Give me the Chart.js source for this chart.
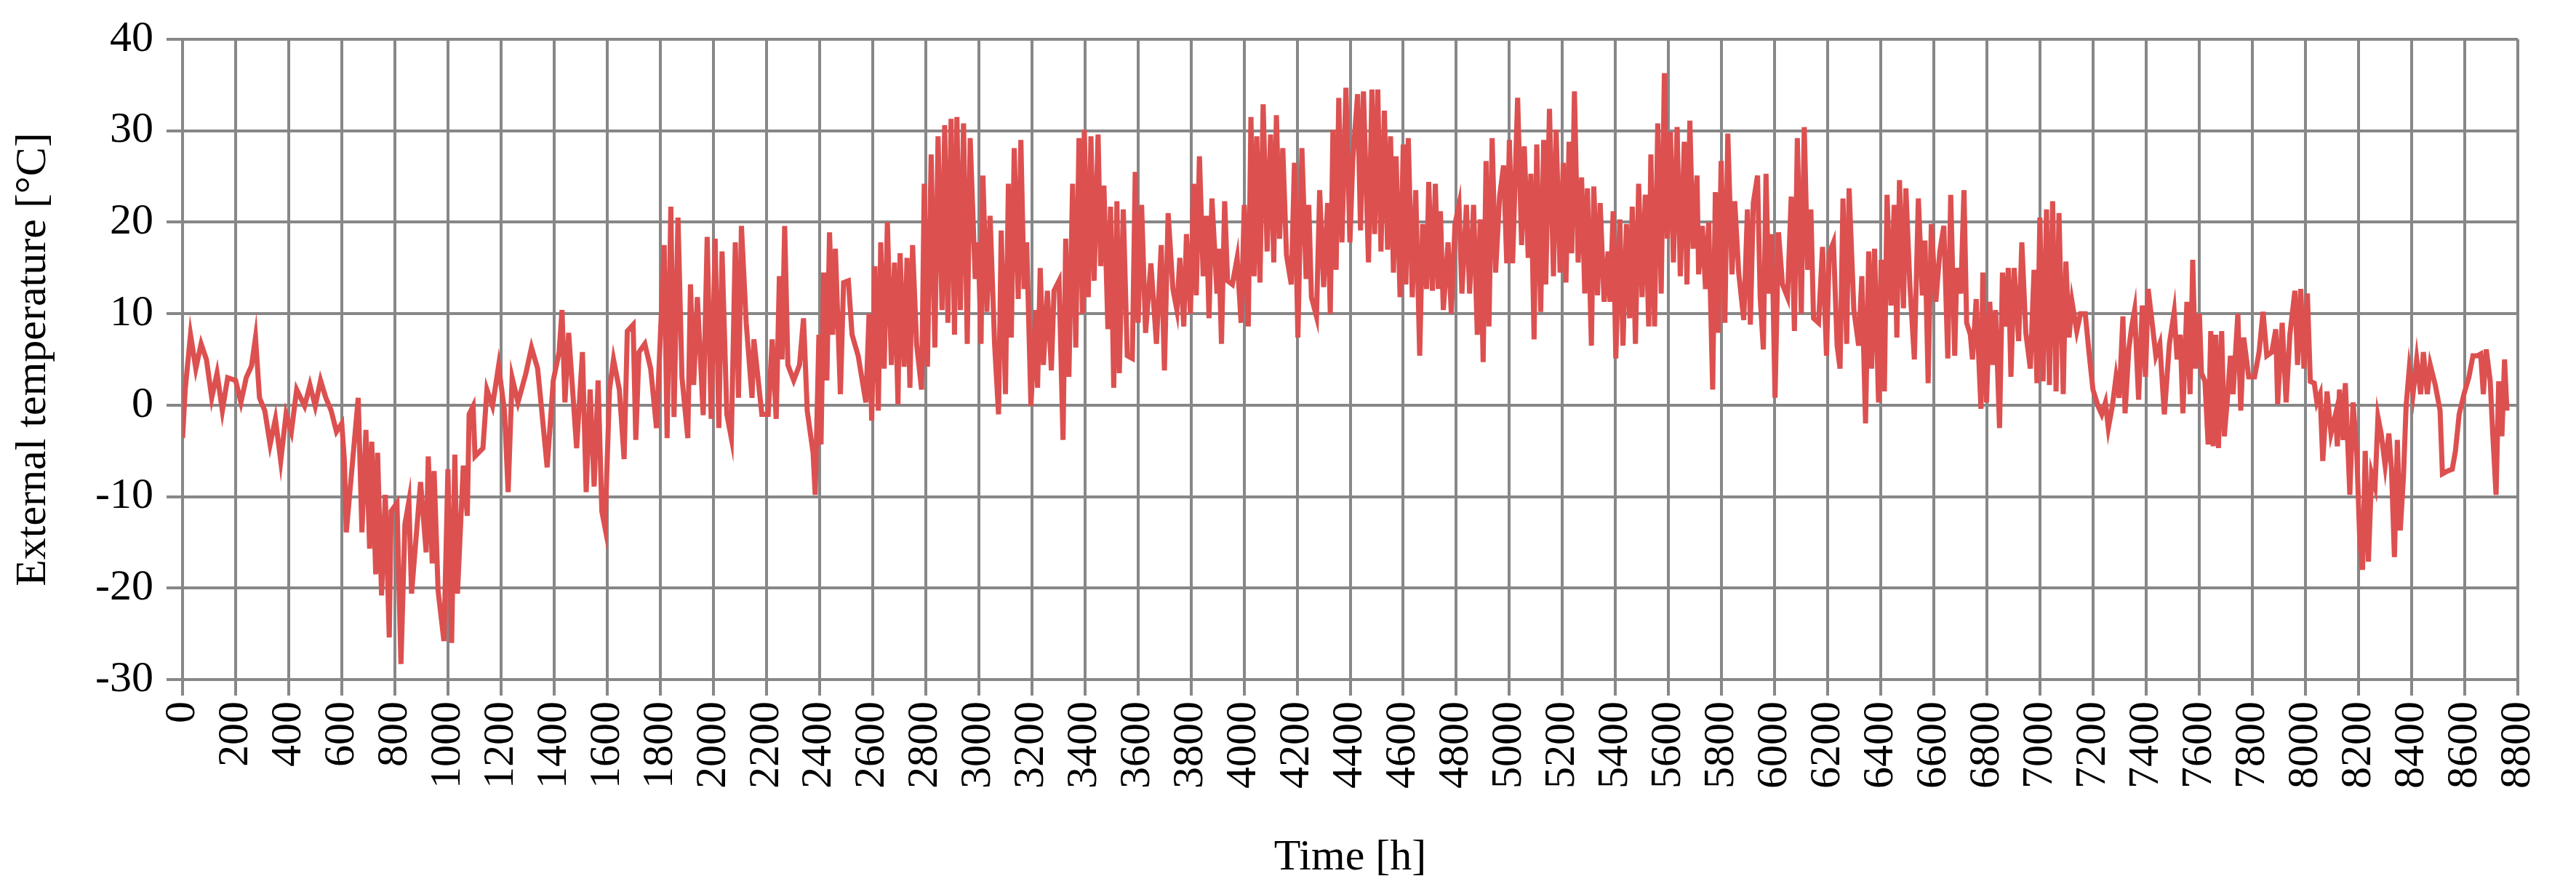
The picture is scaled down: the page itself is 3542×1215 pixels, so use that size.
<!DOCTYPE html>
<html>
<head>
<meta charset="utf-8">
<script src="https://cdn.jsdelivr.net/npm/chart.js@4.4.1/dist/chart.umd.min.js"></script>
<style>
  html, body { margin: 0; padding: 0; background: #fff; }
  #wrap { width: 3542px; height: 1215px; }
</style>
</head>
<body>
<div id="wrap"><canvas id="tempChart" width="3542" height="1215"></canvas></div>
<script>
// hourly external temperature (hour, °C)
const hours = [
  0,10,30,50,70,90,110,130,150,170,200,220,240,260,275,290,310,330,350,370,390,410,430,460,480,500,520,540,560,580,600,610,
  617,662,676,691,705,713,728,735,750,764,779,786,808,823,838,853,863,897,918,926,941,948,963,985,1000,1014,1026,1036,1058,1073,
  1080,1095,1102,1132,1147,1168,1191,1213,1227,1242,1264,1294,1315,1338,1352,1374,1397,1419,1430,1441,1455,1485,1507,1521,1536,1551,
  1566,1580,1592,1609,1624,1646,1664,1676,1698,1708,1720,1742,1764,1786,1815,1826,1840,1852,1867,1882,1904,1914,1926,1940,1962,1977,
  1992,2007,2021,2033,2051,2068,2083,2095,2106,2124,2146,2153,2183,2207,2222,2237,2249,2259,2269,2281,2303,2325,2340,2354,2376,2384,
  2398,2406,2416,2428,2438,2450,2460,2479,2491,2509,2523,2546,2575,2587,2597,2609,2622,2631,2644,2656,2671,2683,2696,2704,2719,2730,
  2741,2751,2766,2785,2795,2807,2821,2835,2847,2862,2872,2884,2896,2909,2918,2931,2943,2957,2968,2987,2998,3009,3016,3031,3043,3060,
  3075,3085,3101,3112,3123,3134,3149,3159,3171,3181,3197,3215,3222,3232,3244,3259,3274,3284,3303,3318,3328,3340,3354,3366,3378,3391,
  3398,3413,3423,3435,3450,3460,3472,3487,3497,3509,3521,3530,3545,3560,3579,3590,3601,3614,3629,3649,3670,3688,3700,3714,3732,3747,
  3758,3773,3783,3798,3810,3820,3832,3846,3858,3868,3879,3898,3905,3915,3927,3938,3956,3974,3989,4001,4016,4026,4038,4048,4060,4072,
  4087,4100,4112,4122,4134,4146,4160,4178,4190,4203,4218,4234,4244,4254,4273,4285,4300,4315,4325,4335,4347,4357,4369,4384,4399,4410,
  4428,4439,4450,4469,4482,4492,4504,4516,4529,4541,4552,4563,4573,4588,4600,4610,4619,4634,4647,4662,4673,4688,4696,4710,4721,4732,
  4740,4751,4769,4781,4795,4810,4821,4838,4850,4865,4879,4890,4901,4912,4923,4935,4948,4963,4978,4990,5000,5012,5031,5046,5056,5071,
  5081,5093,5103,5118,5129,5137,5151,5166,5176,5191,5203,5213,5225,5235,5245,5259,5272,5284,5294,5309,5318,5332,5342,5357,5372,5379,
  5391,5401,5416,5428,5441,5453,5463,5475,5487,5500,5512,5525,5533,5547,5559,5572,5584,5595,5607,5618,5632,5644,5659,5669,5680,5692,
  5707,5713,5727,5739,5751,5766,5776,5786,5798,5812,5823,5839,5849,5864,5883,5897,5908,5919,5935,5945,5957,5967,5977,5989,6001,6014,
  6029,6048,6062,6074,6085,6100,6111,6124,6136,6146,6165,6180,6195,6205,6221,6235,6246,6257,6271,6280,6298,6316,6328,6342,6354,6365,
  6376,6391,6401,6413,6423,6438,6450,6460,6470,6485,6494,6509,6526,6541,6556,6566,6578,6590,6607,6622,6637,6652,6663,6678,6686,6701,
  6713,6723,6737,6745,6759,6777,6784,6798,6810,6822,6832,6847,6858,6868,6880,6890,6902,6919,6931,6946,6963,6977,6988,6999,7011,7024,
  7035,7047,7060,7071,7087,7097,7109,7120,7138,7152,7170,7184,7199,7218,7232,7246,7257,7272,7286,7298,7312,7320,7334,7345,7356,7371,
  7385,7397,7407,7422,7436,7451,7468,7487,7505,7516,7528,7538,7553,7565,7575,7585,7600,7608,7621,7633,7643,7652,7662,7672,7684,7694,
  7706,7717,7727,7745,7756,7767,7786,7808,7825,7840,7854,7873,7888,7895,7912,7927,7941,7960,7970,7982,7994,8007,8018,8033,8043,8055,
  8065,8081,8096,8113,8120,8128,8142,8150,8167,8179,8193,8204,8215,8225,8237,8249,8262,8273,8285,8300,8314,8324,8335,8346,8357,8369,
  8379,8391,8405,8419,8434,8444,8459,8470,8489,8507,8516,8535,8553,8565,8579,8597,8616,8631,8648,8660,8670,8681,8696,8706,8718,8728,
  8740,8750,8759
];
const temps = [
  -3.6,1.7,7.7,4,6.7,5,0.8,3.5,-0.6,3,2.7,0.3,3,4.3,7.4,0.8,-0.6,-4.3,-1.5,-6.1,-1,-2.9,1.7,-0.1,2.2,-0.1,2.7,0.8,-0.6,-2.9,-2,-6.1,
  -13.9,0.8,-13.9,-2.7,-15.7,-4,-18.5,-5.2,-20.8,-9.8,-25.4,-11.6,-10.7,-28.3,-13,-10.5,-20.6,-8.4,-16.1,-5.6,-17.3,-7.2,-20.3,-25.8,-7,-26,-5.4,-20.6,-6.6,-12.1,
  -1,-0.1,-5.6,-4.7,1.7,-0.1,4.3,-0.6,-9.5,3,0.3,3.5,6.3,4,-0.1,-6.8,2.7,5.8,10.4,0.3,7.9,-4.7,5.8,-9.5,1.7,-8.9,
  2.7,-11.6,-13.4,1.7,5,1.7,-5.9,8.1,8.8,-3.8,5.8,6.7,4,-2.5,17.5,-3.6,21.7,-1.3,20.5,3,-3.6,13.2,2.2,11.8,-1.1,18.4,
  -1.5,18.2,-2.5,16.8,-1,-3.6,17.8,0.8,19.6,9,0.8,7.2,-1,-1,7.2,-1.5,14.1,5,19.6,4.4,2.7,4.4,9.5,-0.6,-5.2,-9.8,
  7.7,-4.3,14.5,2.7,18.9,7.7,17.1,1.2,13.4,13.6,7.7,5.4,0.3,10,-1.7,15.2,-0.6,17.8,4,20,4.4,15.6,0.1,16.6,4.2,16.1,
  1.9,17.5,6.7,1.7,24.2,4.2,27.4,6.3,29.4,10.4,30.6,9,31.3,7.7,31.5,10.4,30.8,6.7,29.2,13.8,17.8,6.7,25.1,10.2,20.7,6.7,
  -1,19.1,1.2,24.2,7.4,28.1,11.6,29,12.7,17.8,-0.1,10.4,1.9,15,4.4,12.5,3.8,12.5,13.6,-3.8,18.2,3.1,24.2,6.3,29.2,10,
  30.1,11.8,29.4,13.6,29.6,15.2,24,8.3,21.7,1.9,22.3,3.5,21.4,5.4,5.1,25.5,9,21.9,7.9,15.5,6.7,17.5,3.8,21,12.7,10.4,
  16.1,8.6,18.7,10,24.2,12,27.2,14.1,20.7,9.5,22.6,12.2,17.1,6.7,22.3,13.6,13.2,16.1,9,21.9,8.6,31.5,14.1,29.4,13.4,32.9,
  16.8,29.6,15.6,31.7,18.2,28.1,16.4,13.2,26.5,7.4,28.1,13.8,21.9,11.8,9.7,23.5,12.9,22.1,10,30.1,14.8,33.6,17.8,34.7,17.8,26.9,
  34,19.1,34.3,15.6,34.5,18.7,34.5,16.8,32.2,17,29.4,14.5,27.2,11.8,28.5,13.2,29.2,11.8,23.5,5.4,19.8,12.7,24.4,12.5,24.2,12.7,
  21.2,10.4,17.8,10,19.8,21.9,12.2,21.9,12.2,21.9,7.7,20.3,4.7,26.7,8.6,29.2,14.5,22.8,26.2,15.5,29,15.5,33.6,17.5,28.3,16.1,
  25.3,7.2,28.5,10.2,29,13.2,32.4,14.1,30.1,14.5,26.5,13.4,28.8,16.6,34.3,15.6,24.9,12.2,23.7,6.5,23.9,12,22.1,11.3,16.8,11.3,
  21.2,5.1,20.3,6.5,19.8,9.5,21.7,6.7,24.2,11.8,23,8.6,27.4,8.6,30.8,12.2,36.3,18.2,29.9,15.6,30.4,14.1,28.8,13.2,31.1,17.1,
  25.1,14.3,19.6,12.7,20,1.7,23.3,7.9,26.7,9,29.7,14.3,22.3,14.5,9.3,21.4,8.8,22.1,25.1,11.8,6.1,25.3,12.2,18.7,0.8,18.9,
  13.2,11.8,22.8,8.1,29.2,10,30.4,14.8,21.4,9.5,9,17.3,5.4,16.6,17.8,6.5,4,22.6,6.7,23.7,10.4,6.5,14.1,-2,16.8,4,
  17.1,0.3,15.9,1.5,23,10.9,21.9,7.4,24.6,10.6,23.7,13.2,5,22.6,12,18,2.4,19.8,11.3,16.8,19.6,5.1,23,5.4,15,12.2,
  23.5,9,7.7,5,11.6,-0.4,14.5,0.3,11.3,4.4,10.4,-2.5,14.5,8.6,15,3.1,15,7,17.8,7.9,4,14.8,2.4,20.5,2.6,21.4,
  2.2,22.3,1.5,21,1.2,15.7,7.4,11.3,8.1,10,10,5.8,1.7,-0.1,-1,0.3,-2.5,-0.1,3.1,0.8,9.7,-0.9,6.1,8.6,10.4,0.6,
  10.9,3.1,12.7,9,5.4,6.7,-1,6.7,10.2,5,7.7,-0.9,11.3,1.2,15.9,4,10,3.5,2.6,-4.3,8.1,-4.5,7.7,-4.7,8.1,-3.4,
  0.8,5.4,1.2,10,-0.6,7.4,3.1,3.1,5.8,10.2,5.4,5.8,8.3,0.1,9,0.3,7.7,12.5,4.4,12.7,4,12.2,2.6,2.4,0.3,1.2,
  -6.1,1.5,-3.1,-1,-4.5,1.7,-3.8,2.4,-9.8,0.3,-5.2,-14.4,-18,-5,-17.1,-7.5,-8.9,-1.3,-3.1,-6.6,-3.1,-7,-16.6,-3.8,-13.7,-7.9,
  -0.1,4,1.2,5,1.2,5.8,1.2,4.4,2.2,-0.6,-7.5,-7.2,-7,-5,-1,1.2,3.1,5.4,5.4,5.6,1.2,6.1,2.6,-3.4,-9.8,2.6,
  -3.4,5,-0.6
];
const xTicks = { min: 0, max: 8800, step: 200 };
const yTicks = { min: -30, max: 40, step: 10 };

const points = hours.map((h, i) => ({ x: h, y: temps[i] }));

const gridColor = '#878787';
const font = { family: "'Liberation Serif', 'DejaVu Serif', serif", size: 60 };

new Chart(document.getElementById('tempChart'), {
    type: 'line',
    data: {
        datasets: [{
            data: points,
            borderColor: '#dd5050',
            borderWidth: 7,
            pointRadius: 0,
            tension: 0,
            fill: false
        }]
    },
    options: {
        responsive: false,
        animation: false,
        layout: { padding: { left: 10, right: 14, top: 0, bottom: 0 } },
        plugins: { legend: { display: false }, tooltip: { enabled: false } },
        scales: {
            x: {
                type: 'linear',
                min: xTicks.min,
                max: xTicks.max,
                afterFit: (s) => { s.height = 281; },
                ticks: {
                    stepSize: xTicks.step,
                    autoSkip: false,
                    maxRotation: 90,
                    minRotation: 90,
                    color: '#000',
                    font: font,
                    padding: 8,
                    callback: (v) => String(v)
                },
                grid: { color: gridColor, lineWidth: 4, tickLength: 22 },
                border: { color: gridColor, width: 4 },
                title: { display: true, text: 'Time [h]', color: '#000', font: font, padding: { top: 10, bottom: 0 } }
            },
            y: {
                min: yTicks.min,
                max: yTicks.max,
                afterFit: (s) => { s.width = 241; },
                ticks: { stepSize: yTicks.step, color: '#000', font: font, padding: 18 },
                grid: { color: gridColor, lineWidth: 4, tickLength: 22 },
                border: { color: gridColor, width: 4 },
                title: { display: true, text: 'External temperature [°C]', color: '#000', font: font, padding: { top: 0, bottom: 0 } }
            }
        }
    }
});
</script>
</body>
</html>
